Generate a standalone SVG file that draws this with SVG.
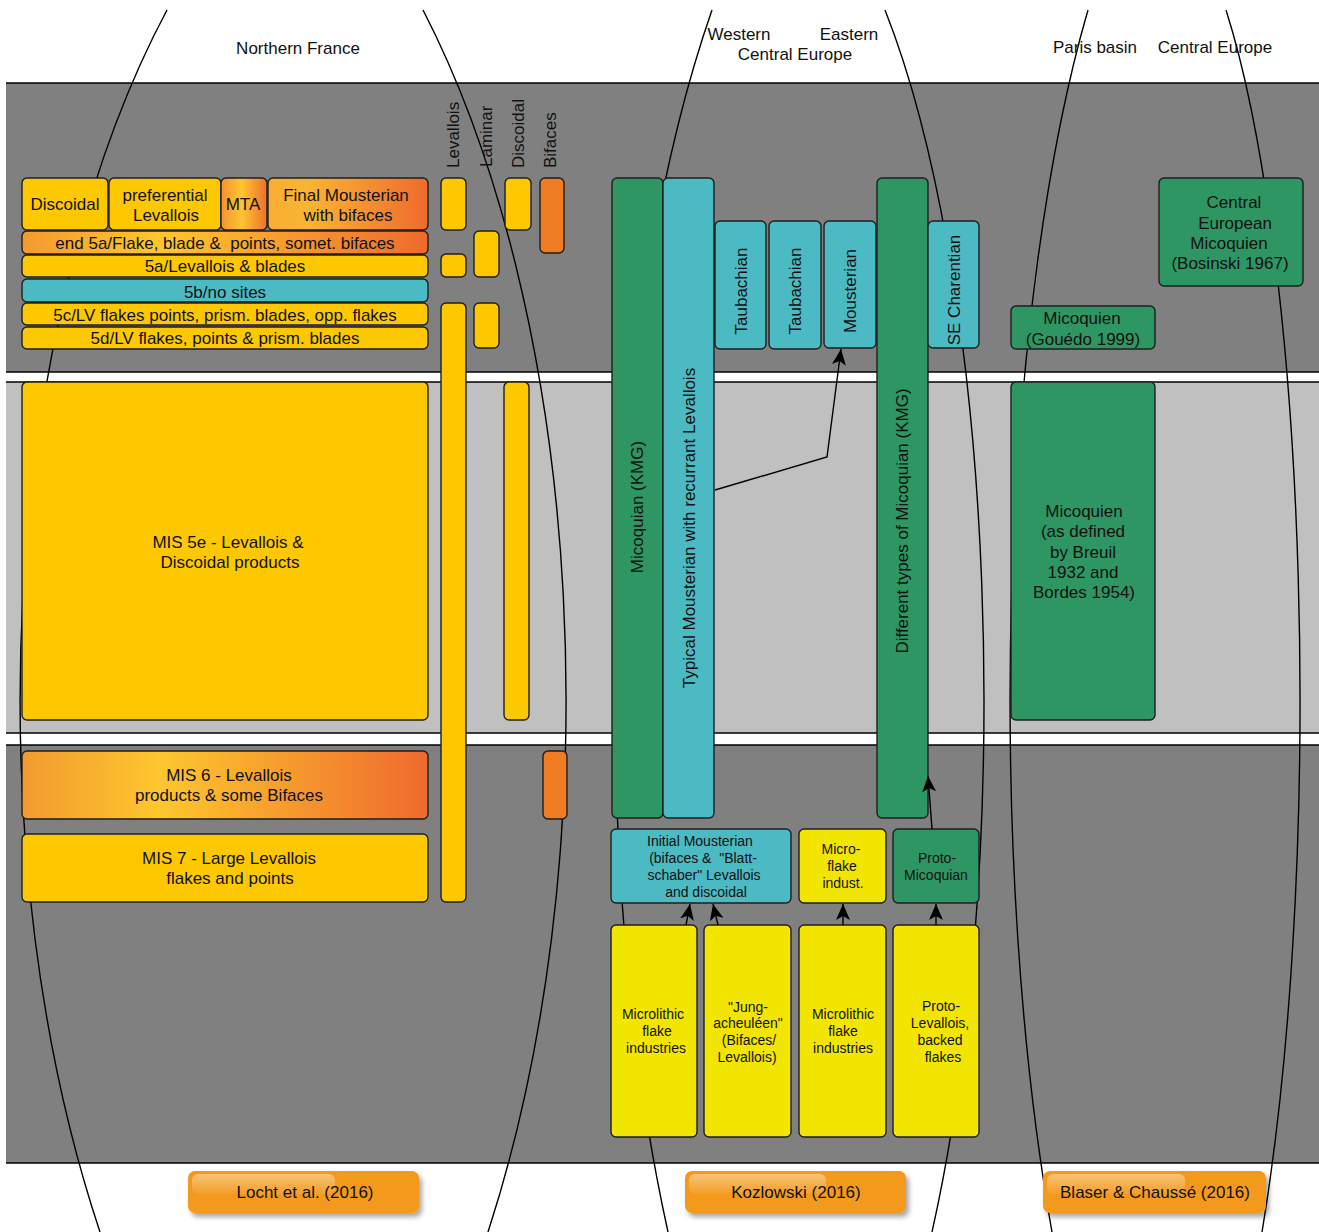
<svg xmlns="http://www.w3.org/2000/svg" width="1319" height="1232" viewBox="0 0 1319 1232">
<defs>
<linearGradient id="gOr" x1="0" y1="0" x2="1" y2="0">
<stop offset="0" stop-color="#f39a2f"/>
<stop offset="0.34" stop-color="#fdc72e"/>
<stop offset="1" stop-color="#ef6a2d"/>
</linearGradient>
<linearGradient id="gMta" x1="0" y1="0" x2="1" y2="0">
<stop offset="0" stop-color="#f3942f"/>
<stop offset="0.45" stop-color="#fdc52e"/>
<stop offset="1" stop-color="#ef702d"/>
</linearGradient>
<linearGradient id="gFin" x1="0" y1="0" x2="1" y2="0">
<stop offset="0" stop-color="#f8ae33"/>
<stop offset="0.25" stop-color="#f9b533"/>
<stop offset="1" stop-color="#ef6a2d"/>
</linearGradient>
<linearGradient id="gHi" x1="0" y1="0" x2="0" y2="1">
<stop offset="0" stop-color="#ffffff" stop-opacity="0.4"/>
<stop offset="1" stop-color="#ffffff" stop-opacity="0.05"/>
</linearGradient>
<filter id="sh" x="-10%" y="-20%" width="130%" height="170%">
<feDropShadow dx="3" dy="4" stdDeviation="2.5" flood-color="#000" flood-opacity="0.35"/>
</filter>
<marker id="ah" viewBox="0 0 16 14" markerWidth="16" markerHeight="14" refX="16" refY="7" orient="auto" markerUnits="userSpaceOnUse">
<path d="M0,0 L16,7 L0,14 L4,7 z" fill="#000"/>
</marker>
</defs>
<style>
text{font-family:"Liberation Sans",Arial,Helvetica,sans-serif;font-size:17px;fill:#111;text-anchor:middle}
.s{font-size:14px}
.hd{text-anchor:start}
.b{stroke:#1e1e1e;stroke-width:1.4}
.y{fill:#fec800}
.t{fill:#4bbac3}
.g{fill:#2e9663}
.by{fill:#f2e500}
.o{fill:#ef7c22}
.crv{fill:none;stroke:#000;stroke-width:1.4}
.ln{stroke:#000;stroke-width:1.3}
.cn{fill:none;stroke:#000;stroke-width:1.4}
.lab{fill:#f39a1b}
</style>

<g id="bands">
<rect x="6" y="83" width="1313" height="289" fill="#808080"/>
<rect x="6" y="382" width="1313" height="351" fill="#c0c0c0"/>
<rect x="6" y="745" width="1313" height="418" fill="#808080"/>
<line class="ln" x1="6" y1="83" x2="1319" y2="83"/>
<line class="ln" x1="6" y1="372" x2="1319" y2="372"/>
<line class="ln" x1="6" y1="382" x2="1319" y2="382"/>
<line class="ln" x1="6" y1="733" x2="1319" y2="733"/>
<line class="ln" x1="6" y1="745" x2="1319" y2="745"/>
<line class="ln" x1="6" y1="1163" x2="1319" y2="1163"/>
</g>

<g id="region-curves">
<path class="crv" d="M167,10 A436,922 0 0 0 100,1232"/>
<path class="crv" d="M423,10 A433,929 0 0 1 488,1232"/>
<path class="crv" d="M712,10 A299,936 0 0 0 668,1232"/>
<path class="crv" d="M885,10 A228,837 0 0 1 932,1232"/>
<path class="crv" d="M1088,10 A212,891 0 0 0 1052,1232"/>
<path class="crv" d="M1226,10 A151,802 0 0 1 1262,1232"/>
</g>

<g id="headers">
<text x="298" y="54">Northern France</text>
<text x="739" y="40">Western</text>
<text x="849" y="40">Eastern</text>
<text x="795" y="60">Central Europe</text>
<text x="1095" y="53">Paris basin</text>
<text x="1215" y="53">Central Europe</text>
<text class="hd" transform="translate(459,168) rotate(-90)">Levallois</text>
<text class="hd" transform="translate(492,167) rotate(-90)">Laminar</text>
<text class="hd" transform="translate(524,168) rotate(-90)">Discoidal</text>
<text class="hd" transform="translate(556,168) rotate(-90)">Bifaces</text>
</g>

<g id="nf-discoidal"><rect class="b y" x="22" y="178" width="86" height="52" rx="5"/><text x="65" y="210">Discoidal</text></g>
<g id="nf-preferential"><rect class="b y" x="109" y="178" width="112" height="52" rx="5"/><text x="165" y="201">preferential</text><text x="166" y="221">Levallois</text></g>
<g id="nf-mta"><rect class="b" fill="url(#gMta)" x="221" y="178" width="46" height="52" rx="5"/><text x="243" y="210">MTA</text></g>
<g id="nf-final"><rect class="b" fill="url(#gFin)" x="268" y="178" width="160" height="52" rx="5"/><text x="346" y="201">Final Mousterian</text><text x="348" y="221">with bifaces</text></g>
<g id="nf-end5a"><rect class="b" fill="url(#gOr)" x="22" y="231" width="406" height="23" rx="5"/><text x="225" y="249" xml:space="preserve">end 5a/Flake, blade &amp;  points, somet. bifaces</text></g>
<g id="nf-5a"><rect class="b y" x="22" y="255" width="406" height="22" rx="5"/><text x="225" y="272">5a/Levallois &amp; blades</text></g>
<g id="nf-5b"><rect class="b t" x="22" y="279" width="406" height="23" rx="5"/><text x="225" y="298">5b/no sites</text></g>
<g id="nf-5c"><rect class="b y" x="22" y="303" width="406" height="22" rx="5"/><text x="225" y="321">5c/LV flakes points, prism. blades, opp. flakes</text></g>
<g id="nf-5d"><rect class="b y" x="22" y="327" width="406" height="22" rx="5"/><text x="225" y="344">5d/LV flakes, points &amp; prism. blades</text></g>
<g id="nf-mis5e"><rect class="b y" x="22" y="382" width="406" height="338" rx="5"/><text x="228" y="548">MIS 5e - Levallois &amp;</text><text x="230" y="568">Discoidal products</text></g>
<g id="nf-mis6"><rect class="b" fill="url(#gOr)" x="22" y="751" width="406" height="68" rx="5"/><text x="229" y="781">MIS 6 - Levallois</text><text x="229" y="801">products &amp; some Bifaces</text></g>
<g id="nf-mis7"><rect class="b y" x="22" y="834" width="406" height="68" rx="5"/><text x="229" y="864">MIS 7 - Large Levallois</text><text x="230" y="884">flakes and points</text></g>

<g id="col-levallois-1"><rect class="b y" x="441" y="178" width="25" height="52" rx="5"/></g>
<g id="col-levallois-2"><rect class="b y" x="441" y="254" width="25" height="23" rx="5"/></g>
<g id="col-levallois-3"><rect class="b y" x="441" y="303" width="25" height="599" rx="5"/></g>
<g id="col-laminar-1"><rect class="b y" x="474" y="231" width="25" height="46" rx="5"/></g>
<g id="col-laminar-2"><rect class="b y" x="474" y="303" width="25" height="45" rx="5"/></g>
<g id="col-discoidal-1"><rect class="b y" x="505" y="178" width="26" height="52" rx="5"/></g>
<g id="col-discoidal-2"><rect class="b y" x="504" y="382" width="25" height="338" rx="5"/></g>
<g id="col-bifaces-1"><rect class="b o" x="540" y="178" width="24" height="75" rx="5"/></g>
<g id="col-bifaces-2"><rect class="b o" x="543" y="751" width="24" height="68" rx="5"/></g>

<g id="k-micoquian"><rect class="b g" x="612" y="178" width="51" height="640" rx="5"/><text transform="translate(637,507) rotate(-90)" y="6">Micoquian (KMG)</text></g>
<g id="k-typical"><rect class="b t" x="663" y="178" width="51" height="640" rx="5"/><text transform="translate(689,528) rotate(-90)" y="6">Typical Mousterian with recurrant Levallois</text></g>
<g id="k-taub1"><rect class="b t" x="715" y="221" width="51" height="128" rx="5"/><text transform="translate(741,291) rotate(-90)" y="6">Taubachian</text></g>
<g id="k-taub2"><rect class="b t" x="769" y="221" width="52" height="128" rx="5"/><text transform="translate(795,291) rotate(-90)" y="6">Taubachian</text></g>
<g id="k-mousterian"><rect class="b t" x="824" y="221" width="52" height="127" rx="5"/><text transform="translate(850,291) rotate(-90)" y="6">Mousterian</text></g>
<g id="k-different"><rect class="b g" x="877" y="178" width="51" height="640" rx="5"/><text transform="translate(902,521) rotate(-90)" y="6">Different types of Micoquian (KMG)</text></g>
<g id="k-secharentian"><rect class="b t" x="928" y="221" width="51" height="127" rx="5"/><text transform="translate(954,290) rotate(-90)" y="6">SE Charentian</text></g>
<g id="k-initial"><rect class="b t" x="611" y="829" width="180" height="74" rx="5"/><text class="s" x="700" y="846">Initial Mousterian</text><text class="s" x="703" y="863" xml:space="preserve">(bifaces &amp;  "Blatt-</text><text class="s" x="704" y="880">schaber" Levallois</text><text class="s" x="706" y="897">and discoidal</text></g>
<g id="k-microflake"><rect class="b by" x="799" y="829" width="87" height="74" rx="5"/><text class="s" x="841" y="854">Micro-</text><text class="s" x="842" y="871">flake</text><text class="s" x="843" y="888">indust.</text></g>
<g id="k-protomicoquian"><rect class="b g" x="893" y="829" width="86" height="74" rx="5"/><text class="s" x="937" y="863">Proto-</text><text class="s" x="936" y="880">Micoquian</text></g>
<g id="k-microlithic1"><rect class="b by" x="611" y="925" width="86" height="212" rx="5"/><text class="s" x="653" y="1019">Microlithic</text><text class="s" x="657" y="1036">flake</text><text class="s" x="656" y="1053">industries</text></g>
<g id="k-jung"><rect class="b by" x="704" y="925" width="87" height="212" rx="5"/><text class="s" x="748" y="1012">"Jung-</text><text class="s" x="748" y="1028">acheuléen"</text><text class="s" x="749" y="1045">(Bifaces/</text><text class="s" x="747" y="1062">Levallois)</text></g>
<g id="k-microlithic2"><rect class="b by" x="799" y="925" width="87" height="212" rx="5"/><text class="s" x="843" y="1019">Microlithic</text><text class="s" x="843" y="1036">flake</text><text class="s" x="843" y="1053">industries</text></g>
<g id="k-protolevallois"><rect class="b by" x="893" y="925" width="86" height="212" rx="5"/><text class="s" x="941" y="1011">Proto-</text><text class="s" x="940" y="1028">Levallois,</text><text class="s" x="940" y="1045">backed</text><text class="s" x="943" y="1062">flakes</text></g>

<g id="b-central"><rect class="b g" x="1159" y="178" width="144" height="108" rx="5"/><text x="1234" y="208">Central</text><text x="1235" y="229">European</text><text x="1229" y="249">Micoquien</text><text x="1230" y="269">(Bosinski 1967)</text></g>
<g id="b-gouedo"><rect class="b g" x="1011" y="306" width="144" height="43" rx="5"/><text x="1082" y="324">Micoquien</text><text x="1083" y="345">(Gouédo 1999)</text></g>
<g id="b-breuil"><rect class="b g" x="1011" y="382" width="144" height="338" rx="5"/><text x="1084" y="517">Micoquien</text><text x="1083" y="537">(as defined</text><text x="1083" y="558">by Breuil</text><text x="1083" y="578">1932 and</text><text x="1084" y="598">Bordes 1954)</text></g>

<g id="connectors">
<path class="cn" d="M715,490 L827,457 L841,349" marker-end="url(#ah)"/>
<path class="cn" d="M932,829 L928,776" marker-end="url(#ah)"/>
<path class="cn" d="M686,925 L690,904" marker-end="url(#ah)"/>
<path class="cn" d="M718,925 L713,904" marker-end="url(#ah)"/>
<path class="cn" d="M843,925 L843,904" marker-end="url(#ah)"/>
<path class="cn" d="M936,925 L936,904" marker-end="url(#ah)"/>
</g>

<g id="label-locht"><rect class="lab" filter="url(#sh)" x="188" y="1171" width="231" height="42" rx="7"/><rect fill="url(#gHi)" x="192" y="1174" width="143" height="20" rx="6"/><text x="305" y="1198">Locht et al. (2016)</text></g>
<g id="label-kozlowski"><rect class="lab" filter="url(#sh)" x="685" y="1171" width="221" height="42" rx="7"/><rect fill="url(#gHi)" x="689" y="1174" width="137" height="20" rx="6"/><text x="796" y="1198">Kozlowski (2016)</text></g>
<g id="label-blaser"><rect class="lab" filter="url(#sh)" x="1043" y="1171" width="223" height="42" rx="7"/><rect fill="url(#gHi)" x="1047" y="1174" width="138" height="20" rx="6"/><text x="1155" y="1198">Blaser &amp; Chaussé (2016)</text></g>
</svg>
